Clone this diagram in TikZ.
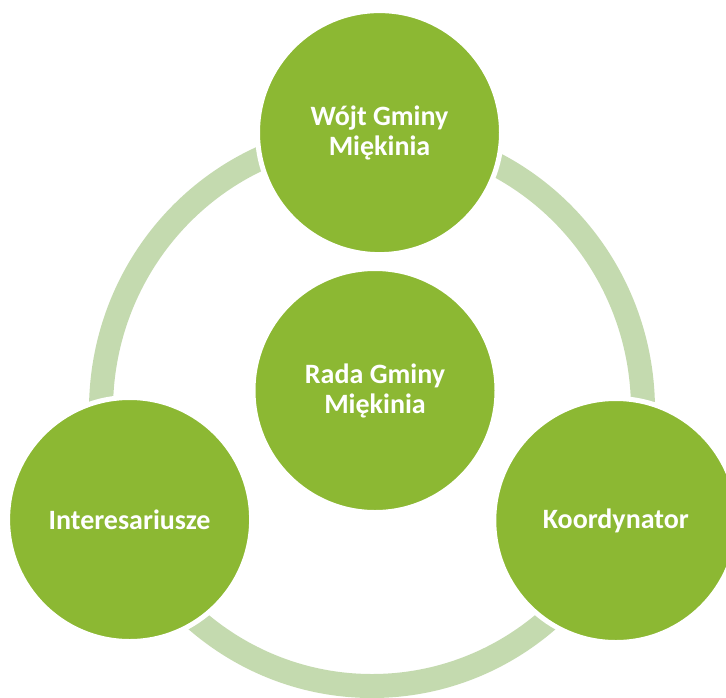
\documentclass[tikz,border=0pt]{standalone}
\usepackage{fontspec}
\setmainfont{Carlito}
\definecolor{leaf}{HTML}{8CB833}
\definecolor{ringc}{HTML}{C4DAAF}
\begin{document}
\begin{tikzpicture}[x=1pt,y=-1pt,
  hub/.style={circle, fill=leaf, draw=white, line width=5pt, minimum size=244pt,
    inner sep=0pt, text=white, font=\bfseries\fontsize{28}{30}\selectfont, align=center}]
\useasboundingbox (0,0) rectangle (726,697);
\clip (0,0) rectangle (726,697);
\draw[ringc, line width=24pt] (372,410) ellipse [x radius=271pt, y radius=276pt];
\node[hub] (wojt) at (379.5,132.6) {Wójt Gminy\\Miękinia};
\node[hub] (rada) at (375,390.5) {Rada Gminy\\Miękinia};
\node[hub] (inter) at (129.6,519.5) {Interesariusze};
\node[hub] (koord) at (615.8,520.5) {Koordynator};
\end{tikzpicture}
\end{document}
